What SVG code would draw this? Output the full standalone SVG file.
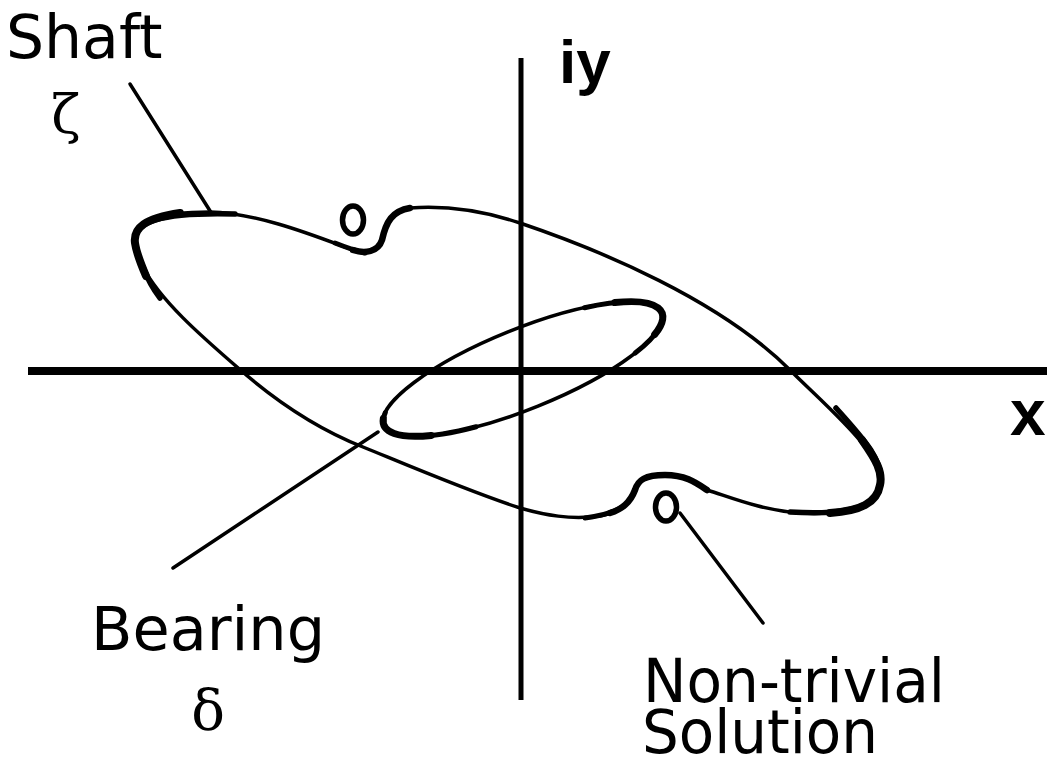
<svg xmlns="http://www.w3.org/2000/svg" width="1054" height="765" viewBox="0 0 1054 765">
<style>
.lbl{font-family:"DejaVu Sans","Liberation Sans",sans-serif;font-size:60px;fill:#000}
.gr{font-family:"DejaVu Serif","Liberation Serif",serif;fill:#000;text-anchor:middle}
.ax{font-family:"Liberation Sans",Arial,sans-serif;font-weight:bold;fill:#000}
.curve{fill:none;stroke:#000;stroke-linejoin:round;stroke-linecap:round}
.lead{stroke:#000;stroke-width:3.5;stroke-linecap:round;fill:none}
</style>
<rect width="1054" height="765" fill="#fff"/>
<g id="axes">
  <line x1="28" y1="371" x2="1047" y2="371" stroke="#000" stroke-width="8"/>
  <line x1="521" y1="58" x2="521" y2="700" stroke="#000" stroke-width="5"/>
  <text class="ax" x="559" y="83" font-size="62">iy</text>
  <text class="ax" x="1010" y="435" font-size="64">x</text>
</g>
<g id="shaft">
  <path class="curve" stroke-width="3.5" d="M135,243 C132,222 160,212 210,212 C260,213 320,238 353,250 C365,254 378,252 382,240 C386,222 392,211 410,208 C450,205 490,213 520,223 C600,250 720,300 790,370 C830,410 885,455 880,485 C876,510 840,515 800,513 C760,510 730,497 707,490 C695,482 685,475 665,475 C645,475 638,480 635,490 C630,505 620,512 600,516 C570,520 545,515 520,508 C470,492 400,462 363,447 C320,430 280,405 237,367 C200,335 160,300 143,267 C138,258 136,250 135,243 Z"/>
  <path class="curve" stroke-width="5.5" d="M160,298 C150,285 146,275 143,267 C138,258 136,250 135,243 C132,222 160,212 235,214"/>
  <path class="curve" stroke-width="8" d="M146,276 C140,262 136,250 135,243 C133,228 145,218 180,213"/>
  <path class="curve" stroke-width="5" d="M335,243 C345,247 353,250 365,253"/>
  <path class="curve" stroke-width="6.5" d="M353,250 C365,254 378,252 382,240 C386,222 392,211 410,208"/>
  <path class="curve" stroke-width="5.5" d="M836,408 C865,440 885,462 880,485 C876,510 840,515 790,512"/>
  <path class="curve" stroke-width="8" d="M862,440 C876,460 883,472 880,485 C877,503 860,511 830,513"/>
  <path class="curve" stroke-width="5" d="M585,518 C600,516 615,513 625,505"/>
  <path class="curve" stroke-width="6.5" d="M610,513 C622,509 630,503 635,490 C638,480 645,475 665,475 C685,475 695,482 707,490"/>
</g>
<g id="bearing" transform="translate(523,369) rotate(-22)">
  <ellipse class="curve" cx="0" cy="0" rx="150" ry="40" stroke-width="3.5"/>
  <path class="curve" stroke-width="5" d="M80,-33.8 A150,40 0 0 1 110,27.2"/>
  <path class="curve" stroke-width="7" d="M110,-27.2 A150,40 0 0 1 135,17.4"/>
  <path class="curve" stroke-width="5" d="M-65,36 A150,40 0 0 1 -144,-11.2"/>
  <path class="curve" stroke-width="7" d="M-110,27.2 A150,40 0 0 1 -148,-6.5"/>
</g>
<g id="solutions">
  <ellipse class="curve" cx="353" cy="220" rx="10.5" ry="14" stroke-width="5.5"/>
  <ellipse class="curve" cx="666" cy="507" rx="10.5" ry="14" stroke-width="5.5"/>
</g>
<g id="connectors">
  <line class="lead" x1="130" y1="84" x2="212" y2="214"/>
  <line class="lead" x1="378" y1="432" x2="173" y2="568"/>
  <line class="lead" x1="680" y1="513" x2="763" y2="623"/>
</g>
<g id="label-shaft">
  <text class="lbl" x="6" y="58">Shaft</text>
  <text class="gr" x="66" y="133" font-size="54">ζ</text>
</g>
<g id="label-bearing">
  <text class="lbl" x="91" y="650" textLength="234" lengthAdjust="spacingAndGlyphs">Bearing</text>
  <text class="gr" x="208" y="730" font-size="56">δ</text>
</g>
<g id="label-solution">
  <text class="lbl" x="643" y="702" font-size="60" textLength="302" lengthAdjust="spacingAndGlyphs">Non-trivial</text>
  <text class="lbl" x="642" y="753" font-size="59" textLength="236" lengthAdjust="spacingAndGlyphs">Solution</text>
</g>
</svg>
